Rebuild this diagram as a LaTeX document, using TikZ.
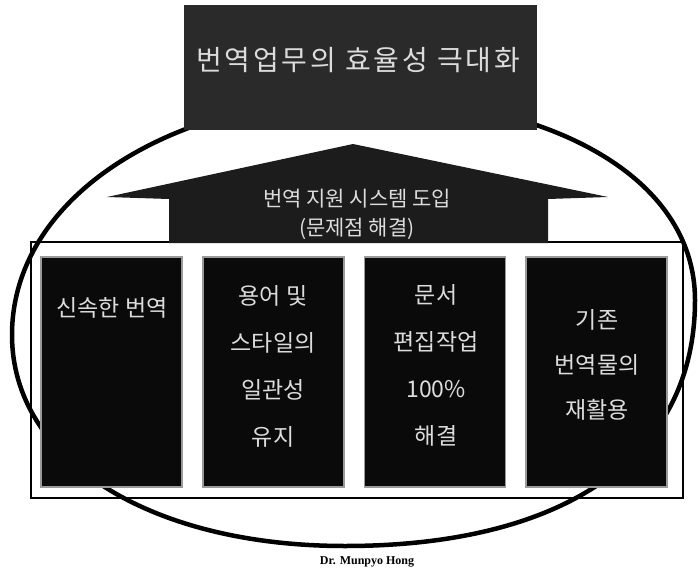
\documentclass[tikz,border=0pt]{standalone}
\usepackage{fontspec}
\setmainfont{Liberation Serif}
\newfontfamily\kr{Noto Sans CJK KR}
\newfontfamily\krwide{Noto Sans CJK KR}[LetterSpace=10]
\definecolor{boxblack}{HTML}{0A0A0A}
\definecolor{boxedge}{HTML}{9A9A9A}
\definecolor{topgrey}{HTML}{2A2A2A}
\definecolor{arrowgrey}{HTML}{1C1C1C}
\definecolor{txtgrey}{HTML}{DCDCDC}
\tikzset{
  darkbox/.style={fill=boxblack, draw=boxedge, line width=1.5pt, minimum width=141pt, minimum height=230pt, inner sep=0pt},
  boxtext/.style={text=txtgrey, font=\kr\fontsize{23}{47}\selectfont, align=center, inner sep=0pt},
  framebox/.style={draw=black, line width=2.5pt},
  ring/.style={draw=black, line width=4.5pt, line join=round},
}
\begin{document}
\begin{tikzpicture}[x=1pt,y=-1pt]
\useasboundingbox (0,0) rectangle (698,572);
% hand-drawn oval (behind boxes)
\draw[ring] (360,98) .. controls (545,98) and (695,175) .. (695,300)
  .. controls (695,460) and (560,546) .. (345,546)
  .. controls (150,546) and (12,460) .. (12,335)
  .. controls (12,195) and (175,98) .. (360,98) -- cycle;
% outer frame
\node[framebox, minimum width=652pt, minimum height=256pt, inner sep=0pt] (frame) at (357,370) {};
% four dark boxes
\node[darkbox] (b1) at (111.5,372) {};
\node[darkbox] (b2) at (273.5,372) {};
\node[darkbox] (b3) at (435,372) {};
\node[darkbox] (b4) at (596.5,372) {};
\node[boxtext] (t1) at (112,308) {신속한 번역};
\node[boxtext] (t2) at (273,366) {용어 및\\스타일의\\일관성\\유지};
\node[boxtext] (t3) at (436,365) {문서\\편집작업\\100\%\\해결};
\node[boxtext, font=\kr\fontsize{23}{45}\selectfont] (t4) at (597,365) {기존\\번역물의\\재활용};
% arrow
\fill[arrowgrey] (107,197) -- (353,144) -- (608,197) -- (548,199) -- (548,243) -- (169,243) -- (169,199) -- cycle;
\node[text=txtgrey, font=\kr\fontsize{21}{29}\selectfont, align=center, inner sep=0pt] (arrtxt) at (357,214) {번역 지원 시스템 도입\\(문제점 해결)};
% top box
\node[fill=topgrey, minimum width=353pt, minimum height=125pt, inner sep=0pt] (top) at (360.5,67.5) {};
\node[text=txtgrey, font=\krwide\fontsize{28}{30}\selectfont, inner sep=0pt] (title) at (358,60) {번역업무의 효율성 극대화};
% signature
\node[font=\fontsize{12}{12}\selectfont\bfseries, inner sep=0pt] (sig) at (367,562) {Dr. Munpyo Hong};
\end{tikzpicture}
\end{document}
